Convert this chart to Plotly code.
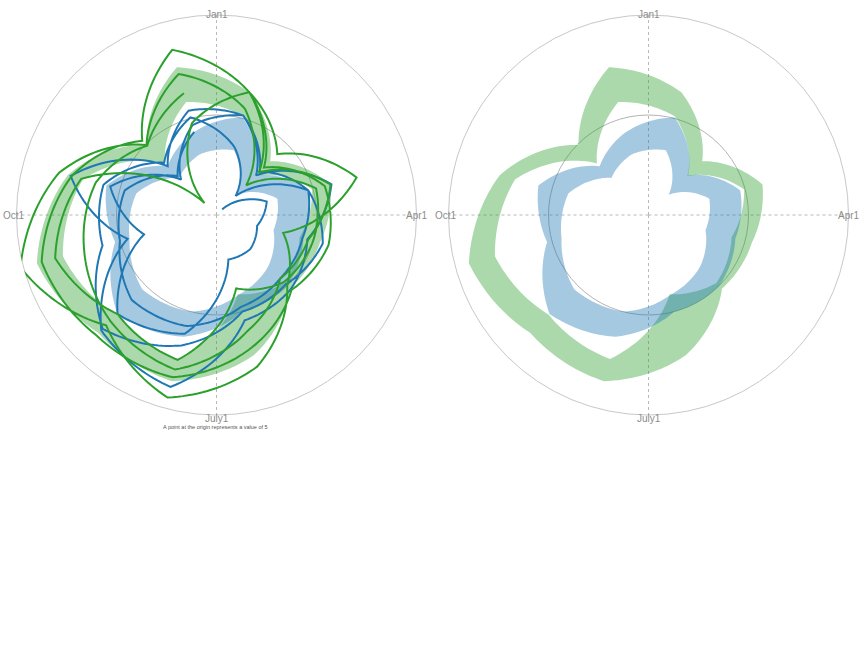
import plotly.graph_objects as go

# mid-month angles (degrees clockwise from Jan1)
month_angle = [15, 45, 75, 105, 135, 165, 195, 225, 255, 285, 315, 345]

# band values (radial axis: origin = 5, outer circle = 25)
green_band_hi = [17.7, 12.6, 16.8, 15.7, 15.4, 19.5, 22.2, 21.7, 23.6, 20.4, 14.9, 20.3]
green_band_lo = [15.2, 10.5, 14.9, 13.6, 14.6, 13.2, 19.9, 19.1, 20.9, 18.8, 12.3, 16.7]
blue_band_hi = [15.1, 10.6, 14.5, 14.0, 15.0, 15.0, 17.6, 19.0, 15.5, 16.4, 11.9, 13.6]
blue_band_lo = [11.7, 7.85, 11.3, 10.9, 12.3, 13.3, 15.0, 15.5, 14.0, 13.3, 10.25, 11.3]

# yearly monthly series (Jan..Dec), drawn as one continuous line per colour
green_y1 = [17.7, 11.7, 16.2, 16.6, 15.6, 18.7, 21.8, 22.0, 23.1, 20.0, 15.5, 22.1]
green_y2 = [17.7, 13.6, 19.5, 11.9, 15.0, 20.7, 23.9, 20.6, 25.3, 21.3, 14.9, 19.6]
green_y3 = [16.0, 9.2, 15.3, 15.0, 14.5, 12.6, 20.0, 19.0, 21.7, 19.0, 6.7, 14.5]
green_y4 = [17.7, 11.0, 16.8, 14.5, 14.0, 17.0, 21.0, 20.0, 18.7, 17.5, 14.8, 17.6]

blue_y1 = [None, 5.8, 10.2, 9.2, 9.8, 9.6, 17.3, 19.0, 12.5, 16.0, 10.0, 14.3]
blue_y2 = [15.3, 10.6, 16.9, 14.4, 15.5, 15.9, 22.8, 21.3, 14.2, 20.1, 11.9, 15.8]
blue_y3 = [15.3, 11.1, 14.5, 16.0, 14.8, 15.0, 18.5, 21.1, 16.8, 16.7, 12.4, 15.1]
blue_y4 = [12.0, 7.7, 14.5, 13.9, 14.0, 14.5, 16.5, 17.0, 15.0, 14.5, 10.5, 13.6]

tick_vals = [0, 90, 180, 270]
tick_text = ["Jan1", "Apr1", "July1", "Oct1"]

GREEN = "#2ca02c"
BLUE = "#1f77b4"
GREEN_FILL = "rgba(44,160,44,0.40)"
BLUE_FILL = "rgba(31,119,180,0.40)"


def spiral(theta, r, closed=False, steps=20):
    """Connect points linearly in (angle, radius) - the chart's line style."""
    th = list(theta) + ([theta[0] + 360] if closed else [])
    rr = list(r) + ([r[0]] if closed else [])
    ot, orr = [], []
    for i in range(len(th) - 1):
        for k in range(steps):
            f = k / steps
            ot.append(th[i] + f * (th[i + 1] - th[i]))
            orr.append(rr[i] + f * (rr[i + 1] - rr[i]))
    ot.append(th[-1])
    orr.append(rr[-1])
    return ot, orr


def band(theta, lo, hi):
    to, ro = spiral(theta, hi, closed=True)
    ti, ri = spiral(theta, lo, closed=True)
    return to + ti[::-1] + [to[0]], ro + ri[::-1] + [ro[0]]


def series(years):
    th, rr = [], []
    for k, yr in enumerate(years):
        for a, v in zip(month_angle, yr):
            if v is not None:
                th.append(a + 360 * k)
                rr.append(v)
    return spiral(th, rr)


fig = go.Figure()

for sub in ["polar", "polar2"]:
    for lo, hi, col in [(green_band_lo, green_band_hi, GREEN_FILL),
                        (blue_band_lo, blue_band_hi, BLUE_FILL)]:
        t, r = band(month_angle, lo, hi)
        fig.add_trace(go.Scatterpolar(
            theta=t, r=r, mode="lines", fill="toself", fillcolor=col,
            line=dict(width=0, color=col), hoverinfo="skip",
            subplot=sub, showlegend=False, cliponaxis=False))

for years, col in [([blue_y1, blue_y2, blue_y3, blue_y4], BLUE),
                   ([green_y1, green_y2, green_y3, green_y4], GREEN)]:
    t, r = series(years)
    fig.add_trace(go.Scatterpolar(
        theta=t, r=r, mode="lines", line=dict(width=2, color=col),
        subplot="polar", showlegend=False, cliponaxis=False, hoverinfo="skip"))

polar_style = dict(
    bgcolor="white",
    angularaxis=dict(direction="clockwise", rotation=90, tickvals=tick_vals,
                     ticktext=tick_text, showticklabels=False, ticks="",
                     showline=True, linecolor="#c8c8c8", linewidth=1,
                     showgrid=True, gridcolor="#b8b8b8", griddash="dot",
                     layer="below traces"),
    radialaxis=dict(range=[5, 25], tickvals=[15], showticklabels=False,
                    ticks="", showline=False, showgrid=True,
                    gridcolor="#b4b4b4", gridwidth=1, layer="below traces"),
)


def px_x(x):
    return x / 864


def px_y(y):
    return 1 - y / 648


fig.update_layout(
    width=864, height=648,
    margin=dict(l=0, r=0, t=0, b=0),
    paper_bgcolor="white", plot_bgcolor="white",
    showlegend=False,
    font=dict(family="Arial, Liberation Sans, sans-serif"),
    polar=dict(domain=dict(x=[px_x(16.5), px_x(416.5)], y=[px_y(415), px_y(15)]), **polar_style),
    polar2=dict(domain=dict(x=[px_x(448.5), px_x(848.5)], y=[px_y(415), px_y(15)]), **polar_style),
)

# angular labels centred on the outer circle
label_pos = [(0, -200), (200.5, 0), (0, 203), (-203, 0)]
for cx in [216.5, 648.5]:
    for (dx, dy), txt in zip(label_pos, tick_text):
        fig.add_annotation(x=px_x(cx + dx), y=px_y(215 + dy), xref="paper", yref="paper",
                           text=txt, showarrow=False, xanchor="center", yanchor="middle",
                           font=dict(size=10, color="#8c8c8c"))

fig.add_annotation(x=px_x(215), y=px_y(427), xref="paper", yref="paper",
                   text="A point at the origin represents a value of 5", showarrow=False,
                   xanchor="center", yanchor="middle", font=dict(size=5.5, color="#555555"))

fig.write_html("out.html", config={"displayModeBar": False},
               post_script="document.body.style.margin='0px';")
